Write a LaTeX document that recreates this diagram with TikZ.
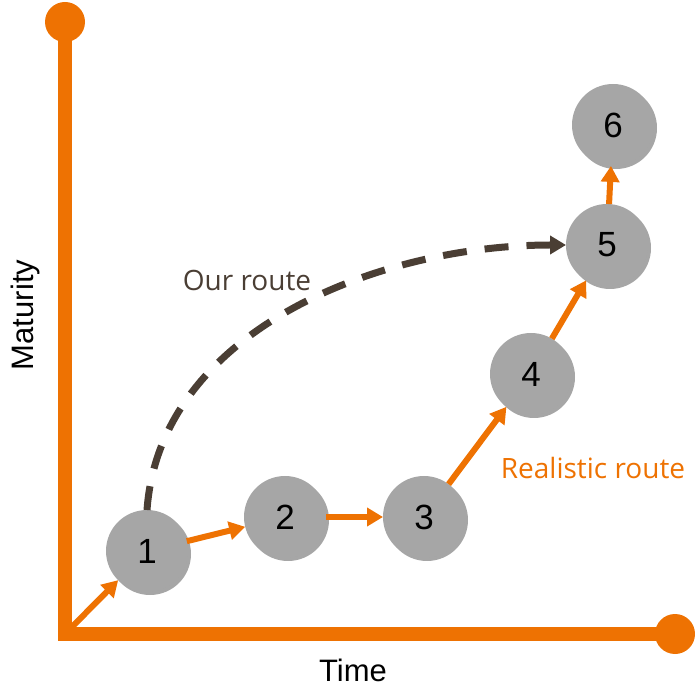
\documentclass[tikz,border=0pt]{standalone}
\usepackage{fontspec}
\setmainfont{Liberation Sans}
\newfontfamily\handfont{Open Sans}
\usetikzlibrary{arrows.meta,shadows}
\definecolor{routeorange}{RGB}{238,114,2}
\definecolor{stagegray}{RGB}{166,166,166}
\definecolor{planbrown}{RGB}{74,62,52}
\tikzset{stage/.style={circle, fill=stagegray, minimum size=41pt, inner sep=0pt, outer sep=0pt,
    font=\fontsize{17.5}{20}\selectfont,
    drop shadow={shadow xshift=1.5pt, shadow yshift=-1.5pt, opacity=0.35, fill=black}}}
\tikzset{axis/.style={draw=routeorange, line width=7pt}}
\tikzset{arr/.style={draw=routeorange, line width=3pt, -{Triangle[length=8pt,width=9pt]}}}
\tikzset{plan/.style={draw=planbrown, line width=3.5pt, dash pattern=on 12pt off 9pt, -{Triangle[length=8pt,width=9pt]}}}

\begin{document}
\begin{tikzpicture}[x=0.5pt, y=-0.5pt]
		\useasboundingbox (0,0) rectangle (695,688);
		
		% axes
		\coordinate (ytop) at (65,22);
		\coordinate (origin) at (65,634);
		\coordinate (xend) at (675,634);
		\draw[axis] (ytop) -- (origin) -- (xend);
		\fill[routeorange] (ytop) circle (10pt);
		\fill[routeorange] (xend) circle (10pt);
		
		\node[rotate=90, font=\fontsize{15.5}{18}\selectfont] (maturity) at (25,315) {Maturity};
		\node[font=\fontsize{15.5}{18}\selectfont] (time) at (353,670) {Time};
		
		% stages
		\node[stage] (S1) at (147,551) {1};
		\node[stage] (S2) at (285,517) {2};
		\node[stage] (S3) at (424,517) {3};
		\node[stage] (S4) at (531,374) {4};
		\node[stage] (S5) at (607,245) {5};
		\node[stage] (S6) at (613,125) {6};
		
		\draw[arr] (origin) -- (S1);
		\draw[arr] (S1) -- (S2);
		\draw[arr] (S2) -- (S3);
		\draw[arr] (S3) -- (S4);
		\draw[arr] (S4) -- (S5);
		\draw[arr] (S5) -- (S6);
		
		\draw[plan] (S1.north) .. controls (160,330) and (380,245) .. (S5.west);
		
		\node[text=planbrown, font=\handfont\fontsize{14}{16}\selectfont] (ours) at (247,280) {Our route};
		\node[text=routeorange, font=\handfont\fontsize{14}{16}\selectfont] (real) at (593,468) {Realistic route};
	\end{tikzpicture}
\end{document}
